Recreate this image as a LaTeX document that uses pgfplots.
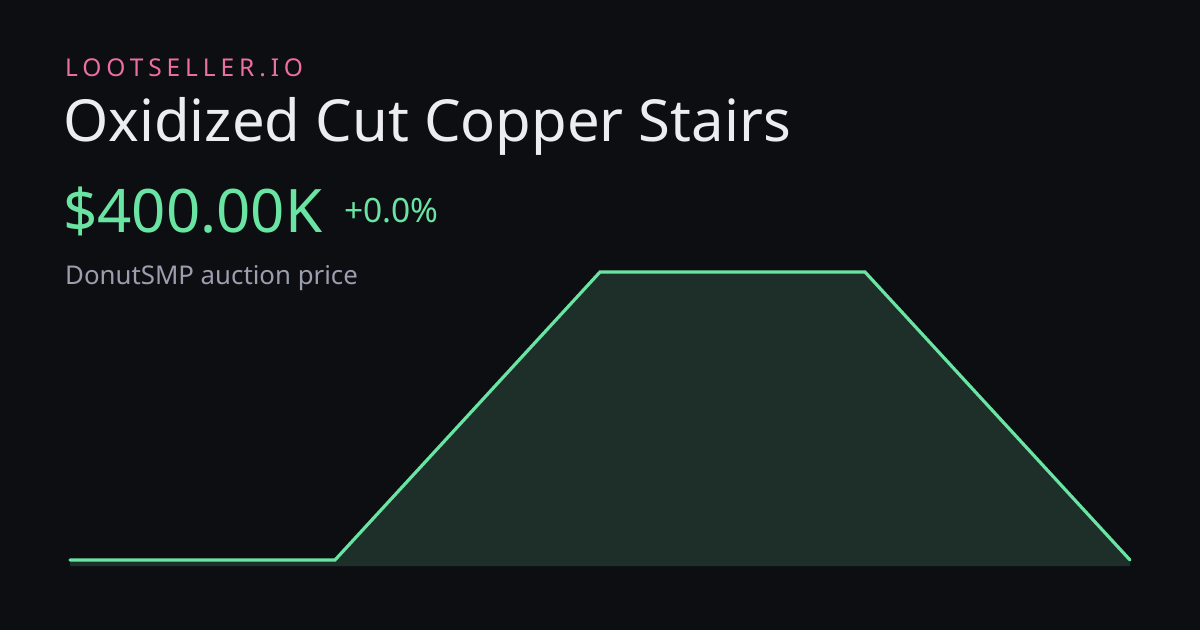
\documentclass[border=0pt]{standalone}
\usepackage{fontspec}
\setmainfont{Noto Sans}
\usepackage{pgfplots}
\pgfplotsset{compat=1.18}
\definecolor{bg}{HTML}{0C0E12}
\definecolor{linegreen}{HTML}{6AE4A2}
\definecolor{fillgreen}{HTML}{1E2F2A}
\definecolor{pink}{HTML}{EC6FA3}
\definecolor{titlecol}{HTML}{ECECF1}
\definecolor{subcol}{HTML}{9A9EAD}
\pgfplotstableread{
x y
0 0
1 0
2 400
3 400
4 0
}\pricedata
\pgfplotstableread{
x y
0 -8.33
0 0
1 0
2 400
3 400
4 0
4 -8.33
}\filldata
\begin{document}
\begin{tikzpicture}[x=1pt,y=1pt]
\fill[bg] (0,0) rectangle (1200,630);
\node[anchor=base west,inner sep=0pt,text=pink] at (65,553)
  {\fontsize{24.5}{26}\selectfont\addfontfeature{LetterSpace=20}LOOTSELLER.IO};
\node[anchor=base west,inner sep=0pt,text=titlecol] at (63,488)
  {\fontsize{58}{60}\selectfont Oxidized Cut Copper Stairs};
\node[anchor=base west,inner sep=0pt,text=linegreen] at (63,397)
  {\fontsize{60}{62}\selectfont \$400.00K};
\node[anchor=base west,inner sep=0pt,text=linegreen] at (344,407)
  {\fontsize{33.5}{35}\selectfont +0.0\%};
\node[anchor=base west,inner sep=0pt,text=subcol] at (65,345)
  {\fontsize{25.8}{27}\selectfont DonutSMP auction price};
\begin{axis}[
  at={(70pt,64pt)}, anchor=south west,
  width=1060pt, height=294pt, scale only axis,
  xmin=0, xmax=4, ymin=-8.33, ymax=400,
  hide axis, clip=false,
]
\addplot[draw=none, fill=fillgreen] table[x=x,y=y] {\filldata} -- cycle;
\addplot[linegreen, line width=3.2pt, line cap=round, line join=miter, mark=none] table[x=x,y=y] {\pricedata};
\end{axis}
\end{tikzpicture}
\end{document}
